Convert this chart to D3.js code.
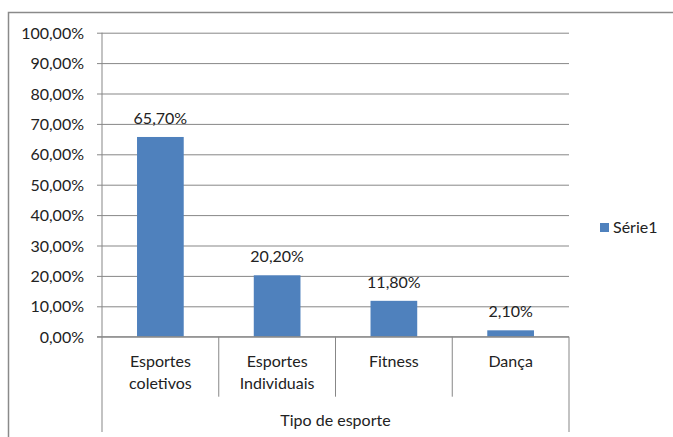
<!DOCTYPE html>
<html>
<head>
<meta charset="utf-8">
<script src="https://cdn.jsdelivr.net/npm/d3@7"></script>
<style>
  body { margin: 0; background: #fff; }
  text { font-family: Lato, "Open Sans", sans-serif; fill: #222; }
</style>
</head>
<body>
<div id="wrapper"></div>
<script>
// data
const categories = ["Esportes\ncoletivos", "Esportes\nIndividuais", "Fitness", "Dança"]
const values = [0.657, 0.202, 0.118, 0.021]
const yTicks = [0, 0.1, 0.2, 0.3, 0.4, 0.5, 0.6, 0.7, 0.8, 0.9, 1.0]
const seriesName = "Série1"
const axisTitle = "Tipo de esporte"

function drawChart() {
  const width = 673
  const height = 437
  const plot = { left: 102, right: 569, top: 32.7, bottom: 336.7 }
  const gridColor = "#878787"
  const barColor = "#4F81BD"
  const fontSize = "16px"

  const ptBR = d3.formatLocale({ decimal: ",", thousands: ".", grouping: [3], currency: ["R$", ""] })
  const pct = ptBR.format(".2%")

  const svg = d3.select("#wrapper")
    .append("svg")
      .attr("width", width)
      .attr("height", height)

  // chart area border
  svg.append("rect")
    .attr("x", 8.5)
    .attr("y", 12.5)
    .attr("width", width + 20)
    .attr("height", height + 20)
    .attr("fill", "none")
    .attr("stroke", "#8a8a8a")
    .attr("stroke-width", 1.5)

  // scales
  const xScale = d3.scaleBand()
    .domain(categories)
    .range([plot.left, plot.right])

  const yScale = d3.scaleLinear()
    .domain([0, 1])
    .range([plot.bottom, plot.top])

  // gridlines + y axis
  const yAxis = d3.axisLeft(yScale)
    .tickValues(yTicks)
    .tickFormat(pct)
    .tickSize(-(plot.right - plot.left))
    .tickPadding(0)

  const yAxisG = svg.append("g")
    .attr("transform", `translate(${plot.left},0)`)
    .call(yAxis)
  yAxisG.select(".domain").remove()
  yAxisG.selectAll(".tick line")
    .attr("x1", -5)
    .attr("stroke", gridColor)
  yAxisG.selectAll(".tick text")
    .attr("x", -18)
    .attr("dy", "0.35em")
    .style("font-size", fontSize)
    .style("font-family", "Lato, sans-serif")
    .attr("fill", "#222")

  // bars
  const barWidth = xScale.bandwidth() * 0.4
  svg.append("g")
    .selectAll("rect")
    .data(values)
    .join("rect")
      .attr("x", (d, i) => xScale(categories[i]) + (xScale.bandwidth() - barWidth) / 2)
      .attr("y", d => yScale(d))
      .attr("width", barWidth)
      .attr("height", d => plot.bottom - yScale(d))
      .attr("fill", barColor)

  // value labels
  svg.append("g")
    .selectAll("text")
    .data(values)
    .join("text")
      .attr("x", (d, i) => xScale(categories[i]) + xScale.bandwidth() / 2)
      .attr("y", d => yScale(d) - 13)
      .attr("text-anchor", "middle")
      .style("font-size", fontSize)
      .text(d => pct(d))

  // category axis: baseline + dividers
  const axisG = svg.append("g")
  axisG.append("line")
    .attr("x1", plot.left - 5).attr("x2", plot.right)
    .attr("y1", plot.bottom).attr("y2", plot.bottom)
    .attr("stroke", gridColor)
  // left axis line down to bottom group
  axisG.append("line")
    .attr("x1", plot.left).attr("x2", plot.left)
    .attr("y1", plot.top).attr("y2", 432)
    .attr("stroke", gridColor)
  axisG.append("line")
    .attr("x1", plot.right).attr("x2", plot.right)
    .attr("y1", plot.bottom).attr("y2", 432)
    .attr("stroke", gridColor)
  axisG.selectAll(".divider")
    .data(categories.slice(1))
    .join("line")
      .attr("class", "divider")
      .attr("x1", d => xScale(d)).attr("x2", d => xScale(d))
      .attr("y1", plot.bottom).attr("y2", 396.7)
      .attr("stroke", gridColor)

  // category labels
  const catLabels = axisG.selectAll(".cat")
    .data(categories)
    .join("text")
      .attr("class", "cat")
      .attr("x", d => xScale(d) + xScale.bandwidth() / 2)
      .attr("y", 367)
      .attr("text-anchor", "middle")
      .style("font-size", fontSize)
  catLabels.selectAll("tspan")
    .data(d => d.split("\n"))
    .join("tspan")
      .attr("x", function() { return d3.select(this.parentNode).attr("x") })
      .attr("dy", (d, i) => i === 0 ? 0 : 22)
      .text(d => d)

  // axis title
  svg.append("text")
    .attr("x", (plot.left + plot.right) / 2)
    .attr("y", 426)
    .attr("text-anchor", "middle")
    .style("font-size", fontSize)
    .text(axisTitle)

  // legend
  const legend = svg.append("g")
    .attr("transform", "translate(600,223)")
  legend.append("rect")
    .attr("width", 9)
    .attr("height", 9)
    .attr("fill", barColor)
  legend.append("text")
    .attr("x", 13)
    .attr("y", 9.5)
    .style("font-size", fontSize)
    .text(seriesName)
}
drawChart()
</script>
</body>
</html>
